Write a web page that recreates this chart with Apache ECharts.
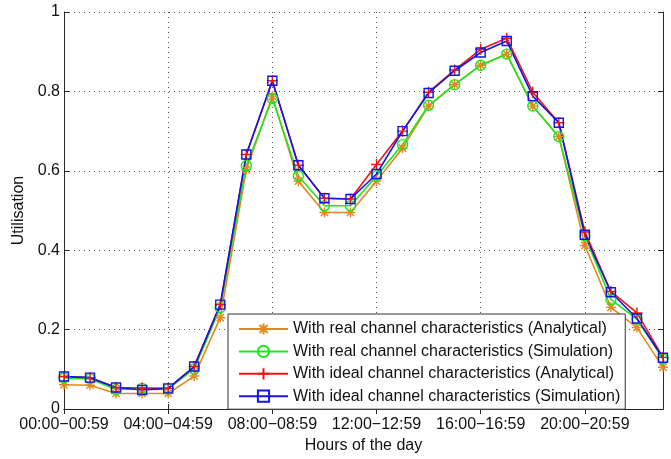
<!DOCTYPE html>
<html>
<head>
<meta charset="utf-8">
<script src="https://cdn.jsdelivr.net/npm/echarts@6/dist/echarts.min.js"></script>
<style>
  html, body { margin: 0; padding: 0; background: #fff; }
  #chart { width: 671px; height: 459px; }
</style>
</head>
<body>
<div id="chart"></div>
<script>
// Hourly time slots of the day
const hours = [
  '00:00−00:59', '01:00−01:59', '02:00−02:59', '03:00−03:59',
  '04:00−04:59', '05:00−05:59', '06:00−06:59', '07:00−07:59',
  '08:00−08:59', '09:00−09:59', '10:00−10:59', '11:00−11:59',
  '12:00−12:59', '13:00−13:59', '14:00−14:59', '15:00−15:59',
  '16:00−16:59', '17:00−17:59', '18:00−18:59', '19:00−19:59',
  '20:00−20:59', '21:00−21:59', '22:00−22:59', '23:00−23:59'
];

// Channel utilisation per hour
const realAnalytical = [0.061, 0.060, 0.039, 0.039, 0.039, 0.083, 0.230, 0.603,
  0.788, 0.574, 0.495, 0.495, 0.574, 0.657, 0.763, 0.817, 0.866, 0.894,
  0.763, 0.686, 0.412, 0.256, 0.205, 0.105];
const realSimulation = [0.078, 0.076, 0.049, 0.052, 0.051, 0.101, 0.255, 0.613,
  0.782, 0.587, 0.512, 0.512, 0.587, 0.666, 0.765, 0.817, 0.866, 0.894,
  0.763, 0.686, 0.436, 0.276, 0.226, 0.126];
const idealAnalytical = [0.082, 0.079, 0.054, 0.053, 0.052, 0.107, 0.263, 0.641,
  0.827, 0.614, 0.531, 0.529, 0.616, 0.700, 0.798, 0.854, 0.906, 0.934,
  0.798, 0.721, 0.446, 0.296, 0.242, 0.130];
const idealSimulation = [0.082, 0.079, 0.054, 0.048, 0.052, 0.107, 0.263, 0.641,
  0.827, 0.614, 0.531, 0.529, 0.592, 0.700, 0.796, 0.852, 0.898, 0.927,
  0.788, 0.721, 0.439, 0.294, 0.228, 0.129];

const seriesNames = [
  'With real channel characteristics (Analytical)',
  'With real channel characteristics (Simulation)',
  'With ideal channel characteristics (Analytical)',
  'With ideal channel characteristics (Simulation)'
];

const FONT = '"Liberation Sans", Arial, sans-serif';
const AXIS = '#262626';
const TEXT = '#111';

const starPath = 'path://M0,-5L0,5M-5,0L5,0M-3.6,-3.6L3.6,3.6M-3.6,3.6L3.6,-3.6';
const plusPath = 'path://M0,-5L0,5M-5,0L5,0';

function makeSeries(name, data, color, symbol, size) {
  return {
    name: name,
    type: 'line',
    data: data,
    xAxisIndex: 0,
    yAxisIndex: 0,
    symbol: symbol,
    symbolSize: size,
    showAllSymbol: true,
    lineStyle: { color: color, width: 1.6 },
    itemStyle: { color: 'rgba(0,0,0,0)', borderColor: color, borderWidth: 1.4 },
    emphasis: { disabled: true },
    animation: false
  };
}

const chart = echarts.init(document.getElementById('chart'), null, { renderer: 'canvas' });

const frameLine = {
  show: true,
  lineStyle: { color: AXIS, width: 1 }
};

chart.setOption({
  backgroundColor: '#fff',
  textStyle: { fontFamily: FONT },
  grid: { left: 64, right: 8, top: 12, bottom: 47, containLabel: false },
  legend: {
    orient: 'vertical',
    left: 228,
    top: 314,
    padding: [7, 5, 5, 10],
    itemGap: 6.4,
    itemWidth: 49,
    itemHeight: 14,
    backgroundColor: '#fff',
    borderColor: '#333',
    borderWidth: 1,
    textStyle: { fontFamily: FONT, fontSize: 16, color: TEXT },
    data: seriesNames
  },
  xAxis: [{
    type: 'category',
    data: hours,
    boundaryGap: false,
    name: 'Hours of the day',
    nameLocation: 'middle',
    nameGap: 29,
    nameTextStyle: { fontFamily: FONT, fontSize: 16, color: TEXT },
    axisLine: frameLine,
    axisTick: { show: true, inside: true, interval: 3, length: 5, lineStyle: { color: AXIS } },
    axisLabel: { interval: 3, fontFamily: FONT, fontSize: 16, color: TEXT, margin: 8 },
    splitLine: { show: true, interval: 3, lineStyle: { color: '#555', type: [1, 4], width: 1 } }
  }, {
    type: 'category',
    data: hours,
    boundaryGap: false,
    position: 'top',
    axisLine: frameLine,
    axisTick: { show: true, inside: true, interval: 3, length: 5, lineStyle: { color: AXIS } },
    axisLabel: { show: false },
    splitLine: { show: false }
  }],
  yAxis: [{
    type: 'value',
    min: 0,
    max: 1,
    interval: 0.2,
    name: 'Utilisation',
    nameLocation: 'middle',
    nameGap: 35,
    nameTextStyle: { fontFamily: FONT, fontSize: 16, color: TEXT },
    axisLine: frameLine,
    axisTick: { show: true, inside: true, length: 5, lineStyle: { color: AXIS } },
    axisLabel: { fontFamily: FONT, fontSize: 16, color: TEXT, margin: 4 },
    splitLine: { show: true, lineStyle: { color: '#555', type: [1, 4], width: 1 } }
  }, {
    type: 'value',
    min: 0,
    max: 1,
    interval: 0.2,
    position: 'right',
    axisLine: frameLine,
    axisTick: { show: true, inside: true, length: 5, lineStyle: { color: AXIS } },
    axisLabel: { show: false },
    splitLine: { show: false }
  }],
  series: [
    makeSeries(seriesNames[0], realAnalytical, '#e08a1e', starPath, 10),
    makeSeries(seriesNames[1], realSimulation, '#1ee61e', 'circle', 10),
    makeSeries(seriesNames[2], idealAnalytical, '#f01414', plusPath, 11),
    makeSeries(seriesNames[3], idealSimulation, '#1414e6', 'rect', 9)
  ]
});
</script>
</body>
</html>
